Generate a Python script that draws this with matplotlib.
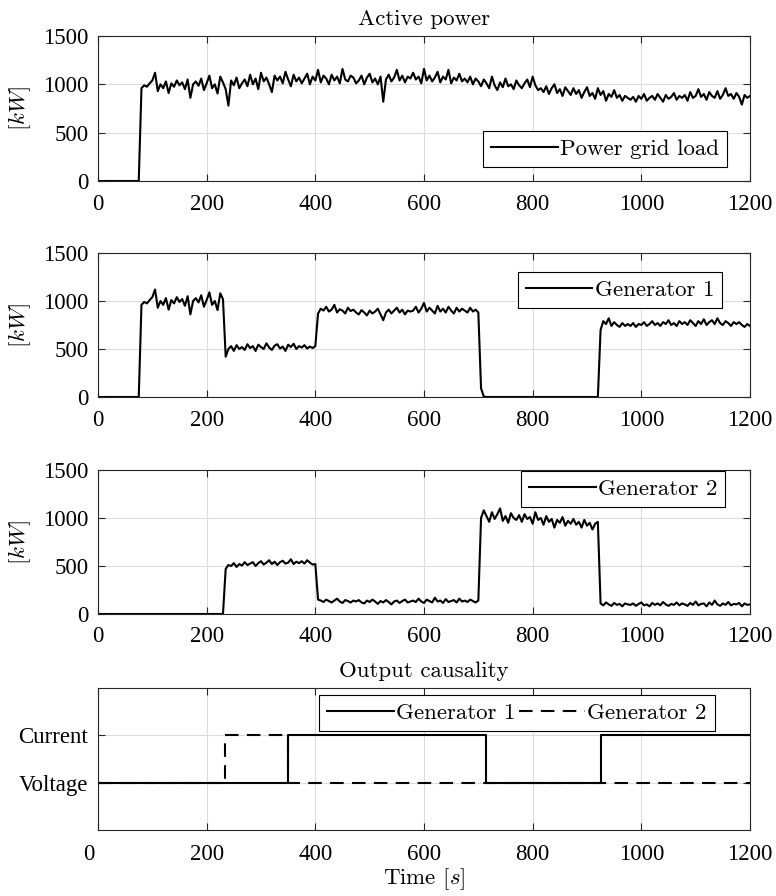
import numpy as np
import matplotlib.pyplot as plt
from matplotlib.transforms import ScaledTranslation

# --- data (5 s spacing) ---
t = np.arange(0, 1201, 5)

grid_load = (
    [0] * 16
    + [960, 990, 975, 1010, 1040, 1120, 930, 1000, 960, 1030, 910, 1010, 975, 1040, 990, 1020, 950, 1050, 860, 1000]
    + [1030, 985, 1060, 940, 1010, 1090, 960, 1000, 905, 1080, 1020, 950, 780, 1040, 990, 1070, 960, 1010, 1050, 980]
    + [1100, 1000, 1060, 950, 1120, 1030, 1070, 1000, 920, 1090, 1040, 1080, 1010, 1130, 1050, 980, 1100, 1030, 1070, 1010]
    + [1060, 1110, 1000, 1080, 1040, 1150, 1020, 1090, 1060, 1000, 1100, 1040, 1080, 1010, 1160, 1050, 1030, 1090, 1070, 1010]
    + [1040, 1090, 1000, 1070, 1110, 1020, 1060, 1000, 1080, 820, 1050, 1100, 1030, 1070, 1150, 1040, 1090, 1020, 1080, 1060]
    + [1120, 1050, 1080, 1010, 1160, 1040, 1090, 1030, 1070, 1130, 1020, 1080, 1050, 1150, 1010, 1070, 1040, 1110, 1030, 1060]
    + [1020, 1080, 1000, 1060, 1030, 980, 1050, 1010, 960, 1080, 990, 940, 1020, 970, 1060, 980, 1000, 950, 1040, 990]
    + [960, 1010, 1050, 970, 1080, 990, 940, 960, 920, 980, 900, 960, 1000, 910, 950, 880, 970, 930, 890, 960]
    + [900, 940, 860, 920, 970, 880, 910, 850, 960, 890, 930, 830, 900, 870, 940, 860, 890, 830, 880, 860]
    + [840, 870, 820, 880, 850, 900, 830, 860, 880, 840, 900, 860, 820, 890, 850, 870, 910, 840, 880, 860]
    + [890, 830, 920, 860, 880, 950, 870, 900, 840, 920, 880, 860, 930, 850, 890, 960, 880, 900, 850, 910]
    + [870, 790, 890, 860, 880]
)

gen1 = (
    [0] * 16
    + [960, 990, 975, 1010, 1040, 1120, 930, 1000, 960, 1030, 910, 1010, 975, 1040, 990, 1020, 950, 1050, 860, 1000]
    + [1030, 985, 1060, 940, 1010, 1090, 960, 1000, 905, 1080, 1020, 420, 500, 530, 480, 540, 500, 520, 490, 550]
    + [510, 530, 480, 545, 520, 500, 560, 515, 490, 535, 550, 505, 525, 480, 545, 520, 555, 500, 530, 515]
    + [540, 505, 525, 510, 530, 870, 920, 900, 940, 890, 910, 960, 880, 915, 900, 870, 930, 895, 910, 880]
    + [860, 905, 880, 850, 900, 870, 890, 920, 860, 800, 880, 910, 870, 900, 930, 880, 910, 860, 900, 890]
    + [900, 940, 880, 920, 980, 890, 930, 900, 870, 950, 890, 920, 880, 940, 900, 870, 930, 890, 920, 900]
    + [880, 930, 890, 910, 880, 90, 5] + [0] * 13
    + [0] * 20
    + [0] * 9 + [700, 790, 760, 820, 740, 780, 750, 730, 770, 740, 760]
    + [740, 770, 730, 760, 750, 780, 740, 760, 790, 750, 770, 740, 780, 760, 800, 750, 770, 740, 790, 760]
    + [780, 750, 800, 770, 740, 790, 760, 810, 750, 780, 800, 760, 820, 770, 750, 790, 770, 740, 780, 760]
    + [780, 750, 730, 760, 740]
)

gen2 = (
    [0] * 47
    + [470, 510, 500, 530, 490, 520, 505, 540, 510]
    + [525, 540, 500, 530, 550, 515, 535, 560, 520, 545, 510, 540, 555, 525, 535, 570, 520, 545, 530, 550]
    + [525, 560, 535, 515, 520, 150, 140, 125, 150, 135, 120, 140, 160, 130, 115, 145, 135, 120, 140, 130]
    + [145, 120, 110, 140, 125, 150, 130, 105, 135, 120, 145, 125, 100, 130, 140, 115, 135, 150, 120, 130]
    + [140, 125, 160, 130, 115, 150, 135, 120, 170, 130, 140, 115, 155, 125, 135, 145, 120, 160, 130, 140]
    + [125, 150, 135, 120, 140, 1000, 1080, 1020, 960, 1060, 990, 1040, 1100, 970, 1020, 950, 1050, 1000, 980, 1030]
    + [960, 1040, 990, 1010, 940, 1060, 980, 1000, 930, 1020, 960, 990, 900, 980, 950, 1010, 920, 970, 940, 990]
    + [930, 960, 900, 980, 920, 950, 880, 940, 960, 110, 90, 120, 100, 85, 115, 95, 105, 80, 110, 100]
    + [95, 110, 85, 105, 120, 90, 100, 80, 115, 95, 110, 90, 125, 100, 85, 105, 95, 120, 90, 110]
    + [100, 85, 115, 95, 130, 90, 105, 110, 80, 120, 95, 140, 100, 85, 110, 95, 125, 90, 105, 100]
    + [115, 80, 110, 95, 100]
)

# causality: 0 = Voltage, 1 = Current (step after each time)
caus1_t = [0, 350, 715, 925, 1200]
caus1_v = [0, 1, 0, 1, 1]
caus2_t = [0, 233, 350, 1200]
caus2_v = [0, 1, 0, 0]

# --- style ---
CM = "cmr10"
TICKFONT = "Liberation Serif"
FS = 16.5
LW = 1.5
plt.rcParams.update({
    "mathtext.fontset": "cm",
    "font.family": TICKFONT,
    "font.size": FS,
    "axes.linewidth": 0.8,
    "axes.edgecolor": "#262626",
})

fig = plt.figure(figsize=(7.76, 8.96), dpi=100)
L, W = 98 / 776, 652 / 776
boxes = [(181, 145), (397, 144), (614, 144), (830, 142)]
axes = [fig.add_axes([L, (896 - b) / 896, W, h / 896]) for b, h in boxes]


def style(ax, xpad=9):
    ax.set_xlim(0, 1200)
    ax.set_xticks([0, 200, 400, 600, 800, 1000, 1200])
    ax.grid(True, color="#dcdcdc", linewidth=0.8)
    ax.set_axisbelow(True)
    ax.tick_params(direction="in", top=True, right=True, length=5,
                   width=0.8, color="#262626", labelsize=FS, pad=7)
    ax.tick_params(axis="x", pad=xpad)
    for lab in ax.get_xticklabels() + ax.get_yticklabels():
        lab.set_fontfamily(TICKFONT)


def legend(ax, loc, anchor, ncol=1):
    leg = ax.legend(loc=loc, bbox_to_anchor=anchor, ncol=ncol, fancybox=False,
                    framealpha=1, edgecolor="black", borderpad=0.35,
                    handlelength=2.9, handletextpad=0.1, columnspacing=0.15,
                    borderaxespad=0, prop={"family": CM, "size": FS})
    leg.get_frame().set_linewidth(0.8)


power = [(grid_load, "Power grid load"), (gen1, "Generator 1"), (gen2, "Generator 2")]
for ax, (y, name) in zip(axes[:3], power):
    ax.plot(t, y, color="black", linewidth=LW, label=name)
    ax.set_ylim(0, 1500)
    ax.set_yticks([0, 500, 1000, 1500])
    ax.set_ylabel(r"$[kW]$", fontsize=FS)
    ax.yaxis.set_label_coords(-0.10, 0.5)
    style(ax)

axes[0].set_title("Active power", family=CM, fontsize=FS, pad=8)
legend(axes[0], "lower right", (0.965, 0.095))
legend(axes[1], "upper right", (0.957, 0.87))
legend(axes[2], "upper right", (0.962, 0.995))

ax = axes[3]
ax.step(caus1_t, caus1_v, where="post", color="black", linewidth=LW, label="Generator 1")
ax.step(caus2_t, caus2_v, where="post", color="black", linewidth=LW,
        linestyle=(0, (6.5, 4)), label="Generator 2")
ax.set_ylim(-1, 2)
ax.set_yticks([0, 1])
ax.set_yticklabels(["Voltage", "Current"])
ax.set_title("Output causality", family=CM, fontsize=FS, pad=8)
ax.set_xlabel(r"Time $[s]$", family=CM, fontsize=FS, labelpad=1)
style(ax, xpad=10)
legend(ax, "upper right", (0.946, 0.951), ncol=2)

# the "0" label of the bottom axis sits a little left of its tick
first = ax.get_xticklabels()[0]
first.set_transform(first.get_transform() + ScaledTranslation(-0.09, 0, fig.dpi_scale_trans))

fig.savefig("out.png", dpi=100)
